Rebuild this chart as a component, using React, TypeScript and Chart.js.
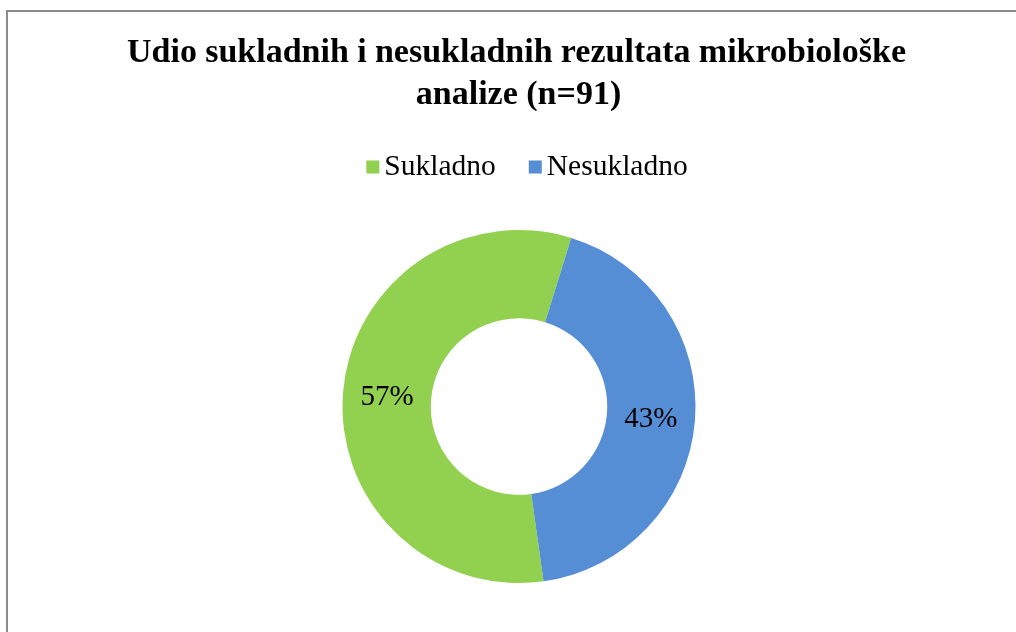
import React, { useEffect, useRef } from "react";
import { Chart, registerables } from "chart.js";

Chart.register(...registerables);

const titleLines = ["Udio sukladnih i nesukladnih rezultata mikrobiološke", "analize (n=91)"];
const categories = ["Sukladno", "Nesukladno"];
const values = [57, 43];
const colors = ["#92D050", "#558ED5"];

const SERIF = "'Liberation Serif', 'Times New Roman', serif";

const overlayPlugin = {
  id: "overlay",
  afterDraw(chart: any) {
    const ctx = chart.ctx as CanvasRenderingContext2D;
    ctx.save();
    ctx.fillStyle = "#000";

    // Title, line 1 justified
    ctx.font = `bold 34px ${SERIF}`;
    ctx.textBaseline = "alphabetic";
    ctx.textAlign = "left";
    const words = titleLines[0].split(" ");
    const widths = words.map((w) => ctx.measureText(w).width);
    const sum = widths.reduce((a, b) => a + b, 0);
    const left = 127;
    const right = 906;
    const gap = Math.max((right - left - sum) / (words.length - 1), 6);
    const lineW = sum + gap * (words.length - 1);
    let x = 516.5 - lineW / 2;
    words.forEach((w, i) => {
      ctx.fillText(w, x, 62);
      x += widths[i] + gap;
    });
    ctx.textAlign = "center";
    ctx.fillText(titleLines[1], 518.5, 104);

    // Legend
    ctx.font = `29.5px ${SERIF}`;
    ctx.textAlign = "left";
    const box = 13;
    const boxGap = 5;
    const itemGap = 33;
    const tw = categories.map((c) => ctx.measureText(c).width);
    let total = 0;
    categories.forEach((_, i) => {
      total += box + boxGap + tw[i];
      if (i < categories.length - 1) total += itemGap;
    });
    let lx = 527 - total / 2;
    categories.forEach((c, i) => {
      ctx.fillStyle = colors[i];
      ctx.fillRect(lx, 160.5, box, box);
      ctx.fillStyle = "#000";
      ctx.fillText(c, lx + box + boxGap, 175);
      lx += box + boxGap + tw[i] + itemGap;
    });

    // Data labels
    const totalVal = values.reduce((a, b) => a + b, 0);
    const meta = chart.getDatasetMeta(0);
    ctx.font = `29px ${SERIF}`;
    ctx.textAlign = "center";
    ctx.textBaseline = "middle";
    meta.data.forEach((arc: any, i: number) => {
      const p = arc.tooltipPosition();
      const pct = Math.round((values[i] / totalVal) * 100) + "%";
      ctx.fillText(pct, p.x, p.y + 2);
    });
    ctx.restore();
  },
};

export default function App() {
  const ref = useRef<HTMLCanvasElement | null>(null);
  useEffect(() => {
    if (!ref.current) return;
    const chart = new Chart(ref.current, {
      type: "doughnut",
      data: {
        labels: categories,
        datasets: [
          {
            data: values,
            backgroundColor: colors,
            borderWidth: 0,
          },
        ],
      },
      options: {
        responsive: false,
        animation: false,
        rotation: 172,
        cutout: "50%",
        layout: { padding: { top: 230, bottom: 49, left: 22, right: 0 } },
        plugins: {
          legend: { display: false },
          title: { display: false },
          tooltip: { enabled: false },
        },
        events: [],
      },
      plugins: [overlayPlugin],
    });
    return () => chart.destroy();
  }, []);

  return (
    <div style={{ position: "fixed", left: 0, top: 0, width: 1016, height: 632, background: "#fff", overflow: "hidden" }}>
      <div
        style={{
          position: "absolute",
          left: 6,
          top: 10,
          width: 1100,
          height: 700,
          borderLeft: "2px solid #8c8c8c",
          borderTop: "2px solid #8c8c8c",
        }}
      />
      <canvas ref={ref} width={1016} height={632} style={{ position: "absolute", left: 0, top: 0 }} />
    </div>
  );
}
